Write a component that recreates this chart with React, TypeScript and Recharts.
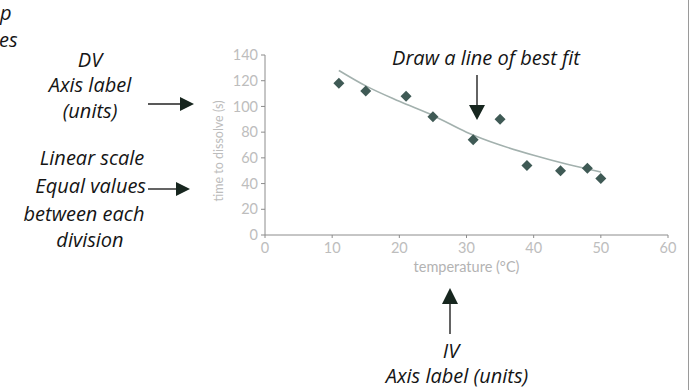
import React from 'react';
import { ComposedChart, XAxis, YAxis, Scatter, Line } from 'recharts';

const temperature = [11, 15, 21, 25, 31, 35, 39, 44, 48, 50];
const dissolveTime = [118, 112, 108, 92, 74, 90, 54, 50, 52, 44];
const fitTemperature = [11, 15, 20, 25, 30, 35, 40, 45, 50];
const fitTime = [128, 116, 104, 93, 80, 70, 62, 55, 49];
const xTicks = [0, 10, 20, 30, 40, 50, 60];
const yTicks = [0, 20, 40, 60, 80, 100, 120, 140];

const points = temperature.map((t, i) => ({ temp: t, time: dissolveTime[i] }));
const fit = fitTemperature.map((t, i) => ({ temp: t, time: fitTime[i] }));

const Diamond = (props: any) => {
  const { cx, cy } = props;
  const r = 5.5;
  return (
    <path
      d={`M${cx},${cy - r}L${cx + r},${cy}L${cx},${cy + r}L${cx - r},${cy}Z`}
      fill="#3f5a55"
    />
  );
};

const YLabel = () => (
  <text
    x={218}
    y={151}
    transform="rotate(-90, 218, 151)"
    textAnchor="middle"
    dominantBaseline="central"
    fill="#bcbcbc"
    fontSize={12.5}
    fontFamily="Lato"
  >
    time to dissolve (s)
  </text>
);

const tickStyle = { fill: '#bdbdbd', fontSize: 14.5, fontFamily: 'Lato' };
const annoFont = { fontFamily: 'Open Sans', fontStyle: 'italic' as const, fontSize: 20, fill: '#151515' };
const headColor = '#17261f';

export default function App() {
  return (
    <div style={{ position: 'absolute', left: 0, top: 0, width: 690, height: 390, background: '#fff' }}>
      <ComposedChart
        width={690}
        height={390}
        margin={{ top: 55, right: 22, bottom: 115, left: 205 }}
      >
        <XAxis
          type="number"
          dataKey="temp"
          domain={[0, 60]}
          ticks={xTicks}
          interval={0}
          tickSize={3}
          tickMargin={5}
          height={40}
          stroke="#8c8c8c"
          tick={tickStyle}
          label={{ value: 'temperature (°C)', position: 'insideBottom', offset: 3, fill: '#b3b3b3', fontSize: 14.5, fontFamily: 'Lato' }}
        />
        <YAxis
          type="number"
          dataKey="time"
          domain={[0, 140]}
          ticks={yTicks}
          interval={0}
          tickSize={4}
          tickMargin={3}
          width={60}
          stroke="#8c8c8c"
          tick={tickStyle}
          label={<YLabel />}
        />
        <Line
          data={fit}
          dataKey="time"
          type="monotone"
          stroke="#a3b1ae"
          strokeWidth={1.6}
          dot={false}
          activeDot={false}
          isAnimationActive={false}
        />
        <Scatter data={points} dataKey="time" shape={Diamond} isAnimationActive={false} />
      </ComposedChart>
      <svg
        width={690}
        height={390}
        style={{ position: 'absolute', left: 0, top: 0, pointerEvents: 'none' }}
      >
        <text x={0} y={20} {...annoFont}>p</text>
        <text x={-1} y={47} {...annoFont}>es</text>

        <text x={90} y={67} textAnchor="middle" {...annoFont}>DV</text>
        <text x={90} y={92} textAnchor="middle" {...annoFont}>Axis label</text>
        <text x={90} y={118} textAnchor="middle" {...annoFont}>(units)</text>
        <line x1={148} y1={104} x2={181} y2={104} stroke="#222" strokeWidth={1.4} />
        <path d="M180,97 L194,104 L180,111 Z" fill={headColor} />

        <text x={92} y={165} textAnchor="middle" {...annoFont}>Linear scale</text>
        <text x={146} y={193} textAnchor="end" {...annoFont}>Equal values</text>
        <line x1={148} y1={189} x2={177} y2={189} stroke="#222" strokeWidth={1.4} />
        <path d="M176,182 L190,189 L176,196 Z" fill={headColor} />
        <text x={84} y={221} textAnchor="middle" {...annoFont}>between each</text>
        <text x={90} y={247} textAnchor="middle" {...annoFont}>division</text>

        <text x={486} y={65} textAnchor="middle" {...annoFont}>Draw a line of best fit</text>
        <line x1={477} y1={75} x2={477} y2={106} stroke="#222" strokeWidth={1.4} />
        <path d="M469,105 L477,120 L485,105 Z" fill={headColor} />

        <path d="M442,304 L450,288 L458,304 Z" fill={headColor} />
        <line x1={450} y1={303} x2={450} y2={334} stroke="#222" strokeWidth={1.4} />
        <text x={451} y={358} textAnchor="middle" {...annoFont}>IV</text>
        <text x={457} y={383} textAnchor="middle" {...annoFont}>Axis label (units)</text>

        <line x1={688.5} y1={0} x2={688.5} y2={390} stroke="#9a9a9a" strokeWidth={1} />
      </svg>
    </div>
  );
}
